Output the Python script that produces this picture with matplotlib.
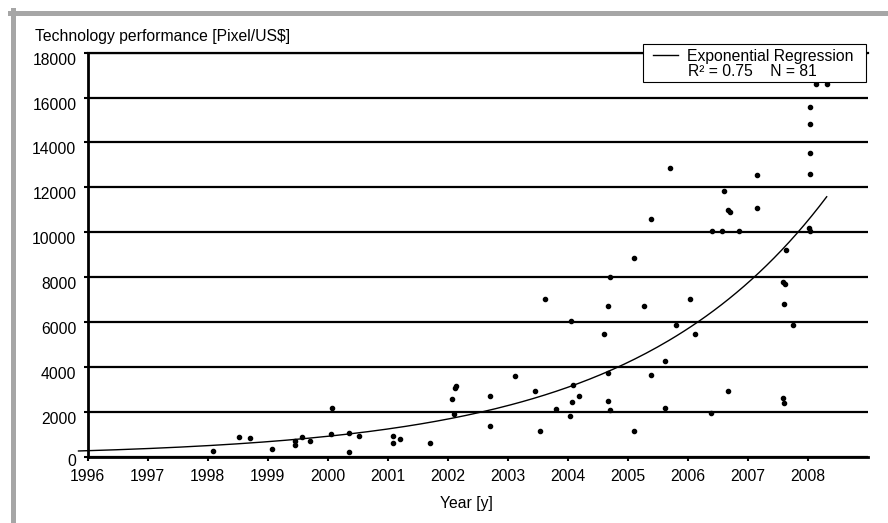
# tech_performance.py
# scatter of pixel/US$ per year with an exponential trend line

import numpy as np
import matplotlib
matplotlib.use("Agg")
import matplotlib.pyplot as plt
import matplotlib.transforms as mtransforms
from matplotlib.patches import Rectangle
from matplotlib.lines import Line2D

plt.rcParams['font.family'] = ['Liberation Sans', 'DejaVu Sans']

# ── data ─────────────────────────────────────────────────────────────────
years = [
    1998.09, 1998.53, 1998.70, 1999.08, 1999.45, 1999.46, 1999.57, 1999.71,
    2000.08, 2000.06, 2000.35, 2000.36, 2000.53,
    2001.09, 2001.09, 2001.20, 2001.71,
    2002.07, 2002.11, 2002.12, 2002.14, 2002.71, 2002.71,
    2003.13, 2003.46, 2003.54, 2003.62, 2003.81,
    2004.04, 2004.06, 2004.08, 2004.09, 2004.19, 2004.61, 2004.68, 2004.71,
    2004.68, 2004.68, 2004.70,
    2005.10, 2005.11, 2005.28, 2005.39, 2005.39, 2005.62, 2005.62, 2005.71,
    2005.81,
    2006.04, 2006.13, 2006.39, 2006.40, 2006.57, 2006.61, 2006.67, 2006.70,
    2006.68, 2006.85,
    2007.15, 2007.15, 2007.59, 2007.61, 2007.59, 2007.63, 2007.61, 2007.64,
    2007.75,
    2008.03, 2008.04, 2008.04, 2008.04, 2008.04, 2008.04, 2008.14, 2008.32,
]
perf = [
    265, 875, 825, 355, 505, 685, 875, 685,
    2150, 1025, 1045, 225, 905,
    905, 595, 785, 595,
    2560, 1905, 3050, 3150, 2690, 1385,
    3580, 2910, 1145, 7030, 2125,
    1825, 6050, 2450, 3210, 2690, 5465, 6700, 8000,
    3750, 2480, 2080,
    1145, 8845, 6710, 3650, 10590, 4270, 2155, 12860,
    5890,
    7040, 5465, 1955, 10050, 10050, 11855, 11010, 10890,
    2940, 10050,
    12565, 11085, 2615, 2390, 7800, 7680, 6800, 9200,
    5880,
    10180, 10070, 12610, 13540, 14810, 15585, 16625, 16625,
]

# trend line y = a * exp(b * (year - 1996))
reg_a = 267
reg_b = 0.306
reg_start = 1995.85
reg_end = 2008.32

year_ticks = list(range(1996, 2009))
perf_ticks = list(range(0, 18001, 2000))

legend_title = "Exponential Regression"
legend_stats = "R² = 0.75    N = 81"
# ─────────────────────────────────────────────────────────────────────────

FS = 11.3

xs = np.linspace(reg_start, reg_end, 200)
ys = reg_a * np.exp(reg_b * (xs - 1996))

fig = plt.figure(figsize=(8.88, 5.23), dpi=100)
ax = fig.add_axes([87.5 / 888, 1 - 456.7 / 523, 780 / 888, 404 / 523])

ax.plot(xs, ys, color='black', lw=1.0, clip_on=False, zorder=3)
ax.plot(years, perf, 'o', color='black', markersize=3, zorder=4, clip_on=False)

ax.set_xlim(1996, 2009)
ax.set_ylim(0, 18000)
ax.set_xticks(year_ticks)
ax.set_yticks(perf_ticks)

ax.yaxis.grid(True, color='black', lw=1.6)
ax.set_axisbelow(True)
ax.spines['right'].set_visible(False)
ax.spines['top'].set_linewidth(1.6)
ax.spines['left'].set_linewidth(2)
ax.spines['bottom'].set_linewidth(2)

ax.tick_params(axis='both', direction='out', length=3, width=1.5,
               labelsize=FS, color='black')
ax.tick_params(axis='y', pad=5)
ax.tick_params(axis='x', pad=5.6)

# Excel puts value labels a bit below their gridlines
# (the "0" only a little, so it stays clear of the year labels)
for lab, val in zip(ax.get_yticklabels(), perf_ticks):
    dy = -3 if val == 0 else -6
    off = mtransforms.ScaledTranslation(0, dy / 100, fig.dpi_scale_trans)
    lab.set_transform(lab.get_transform() + off)

fig.text(35 / 888, 1 - 37 / 523, "Technology performance [Pixel/US$]",
         fontsize=FS, ha='left', va='center')
fig.text(466.7 / 888, 1 - 503.3 / 523, "Year [y]",
         fontsize=FS, ha='center', va='center')

# legend box, drawn by hand
fig.add_artist(Rectangle((642.7 / 888, 1 - 81.7 / 523), 223 / 888, 37.4 / 523,
                         transform=fig.transFigure, facecolor='white',
                         edgecolor='black', lw=0.8, zorder=5))
fig.add_artist(Line2D([653 / 888, 678 / 888], [1 - 55 / 523, 1 - 55 / 523],
                      transform=fig.transFigure, color='black', lw=1.0, zorder=6))
fig.text(686.7 / 888, 1 - 56.5 / 523, legend_title, fontsize=FS,
         ha='left', va='center', zorder=7)
fig.text(688 / 888, 1 - 71.5 / 523, legend_stats, fontsize=FS,
         ha='left', va='center', zorder=7)

# grey frame on top and left
fig.add_artist(Line2D([10 / 888, 1], [1 - 12.5 / 523, 1 - 12.5 / 523],
                      transform=fig.transFigure, color='#a6a6a6', lw=3.6))
fig.add_artist(Line2D([12.5 / 888, 12.5 / 888], [0, 1 - 10 / 523],
                      transform=fig.transFigure, color='#a6a6a6', lw=3.6))

fig.savefig("out.png", dpi=100)
